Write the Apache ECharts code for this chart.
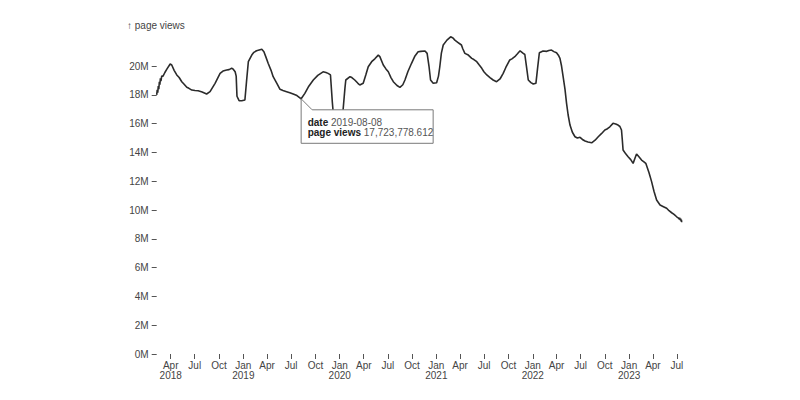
<!DOCTYPE html>
<html>
<head>
<meta charset="utf-8">
<script src="https://cdn.jsdelivr.net/npm/echarts@6/dist/echarts.min.js"></script>
<style>
  html, body { margin: 0; padding: 0; background: #fff; }
  #chart { width: 800px; height: 400px; }
</style>
</head>
<body>
<div id="chart"></div>
<script>
// ---- data (page views, millions) ----
const dates = [
  '2018-02-07','2018-02-09','2018-02-11','2018-02-13','2018-02-15','2018-02-17','2018-02-19','2018-02-21','2018-02-23','2018-02-26',
  '2018-03-03','2018-03-10','2018-03-18','2018-03-30','2018-04-05','2018-04-14','2018-04-24','2018-05-03','2018-05-13','2018-05-21',
  '2018-06-01','2018-06-09','2018-06-20','2018-07-02','2018-07-14','2018-07-29','2018-08-15','2018-08-28','2018-09-16','2018-10-05',
  '2018-10-16','2018-10-30','2018-11-08','2018-11-18','2018-11-23','2018-12-01','2018-12-05','2018-12-08','2018-12-16','2018-12-26',
  '2019-01-07','2019-01-13','2019-01-20','2019-02-02','2019-02-10','2019-02-20','2019-03-12','2019-03-20','2019-03-28','2019-04-05',
  '2019-04-16','2019-04-24','2019-05-08','2019-05-20','2019-05-31','2019-06-14','2019-06-26','2019-07-09','2019-07-23','2019-08-08',
  '2019-08-22','2019-09-06','2019-09-23','2019-10-10','2019-10-30','2019-11-10','2019-11-18','2019-11-27','2019-12-04','2019-12-10',
  '2019-12-25','2020-01-09','2020-01-14','2020-01-21','2020-01-24','2020-02-09','2020-02-16','2020-02-27','2020-03-10','2020-03-17',
  '2020-03-30','2020-04-09','2020-04-18','2020-05-01','2020-05-13','2020-05-26','2020-06-01','2020-06-14','2020-06-24','2020-07-03',
  '2020-07-13','2020-07-22','2020-08-05','2020-08-16','2020-08-27','2020-09-04','2020-09-15','2020-09-29','2020-10-12','2020-10-24',
  '2020-11-03','2020-11-19','2020-11-27','2020-12-04','2020-12-10','2020-12-20','2021-01-02','2021-01-09','2021-01-14','2021-01-20',
  '2021-01-27','2021-02-10','2021-02-24','2021-03-05','2021-03-12','2021-03-23','2021-04-06','2021-04-11','2021-04-19','2021-05-02',
  '2021-05-15','2021-05-23','2021-06-03','2021-06-11','2021-06-22','2021-06-30','2021-07-11','2021-07-23','2021-08-04','2021-08-17',
  '2021-08-30','2021-09-11','2021-09-21','2021-10-06','2021-10-14','2021-10-25','2021-11-04','2021-11-14','2021-11-26','2021-12-02',
  '2021-12-08','2021-12-15','2021-12-25','2022-01-03','2022-01-13','2022-01-19','2022-01-26','2022-02-09','2022-02-23','2022-03-03',
  '2022-03-13','2022-03-22','2022-04-01','2022-04-08','2022-04-14','2022-04-20','2022-04-26','2022-05-03','2022-05-09','2022-05-15',
  '2022-05-22','2022-05-31','2022-06-10','2022-06-19','2022-06-29','2022-07-08','2022-07-18','2022-07-29','2022-08-12','2022-08-25',
  '2022-09-06','2022-09-18','2022-10-01','2022-10-11','2022-10-20','2022-11-01','2022-11-11','2022-11-20','2022-11-27','2022-12-03',
  '2022-12-06','2022-12-09','2022-12-19','2022-12-28','2023-01-07','2023-01-16','2023-01-23','2023-01-29','2023-02-07','2023-02-17',
  '2023-02-26','2023-03-05','2023-03-17','2023-03-27','2023-04-05','2023-04-15','2023-04-28','2023-05-09','2023-05-23','2023-06-01',
  '2023-06-11','2023-06-20','2023-06-30','2023-07-06','2023-07-09','2023-07-11','2023-07-13','2023-07-15','2023-07-17','2023-07-18',
  '2023-07-19'
];
const pageViewsM = [
  18.00,18.35,18.15,18.60,18.40,18.90,18.70,19.15,18.95,19.30,
  19.30,19.55,19.80,20.14,20.07,19.70,19.38,19.20,18.91,18.75,
  18.52,18.45,18.33,18.30,18.28,18.20,18.06,18.22,18.80,19.49,
  19.65,19.72,19.75,19.84,19.80,19.60,19.30,17.90,17.60,17.59,
  17.64,18.90,20.30,20.76,20.95,21.06,21.16,20.99,20.60,20.19,
  19.70,19.26,18.80,18.38,18.30,18.22,18.15,18.06,17.95,17.723778612,
  18.10,18.60,19.03,19.35,19.60,19.55,19.49,19.38,17.50,16.20,
  15.50,15.60,17.00,18.50,19.03,19.26,19.20,19.03,18.80,18.68,
  18.80,19.40,19.95,20.30,20.50,20.76,20.65,20.07,19.80,19.60,
  19.20,18.91,18.65,18.52,18.70,19.03,19.60,20.19,20.70,20.99,
  21.02,21.04,20.88,20.00,19.03,18.80,18.84,19.30,19.95,20.90,
  21.46,21.80,22.03,21.95,21.80,21.65,21.46,21.20,20.88,20.76,
  20.53,20.45,20.30,20.10,19.84,19.60,19.38,19.20,19.03,18.91,
  19.10,19.49,19.90,20.42,20.50,20.65,20.85,21.06,20.88,20.80,
  20.00,19.03,18.85,18.75,18.80,19.80,20.92,21.04,21.02,21.08,
  21.11,21.00,20.92,20.75,20.53,20.00,19.26,18.40,17.41,16.60,
  15.90,15.40,15.09,15.00,15.05,14.90,14.79,14.72,14.67,14.85,
  15.09,15.30,15.56,15.65,15.78,16.02,15.98,15.90,15.80,15.56,
  14.90,14.17,13.90,13.70,13.50,13.24,13.60,13.89,13.70,13.47,
  13.35,13.24,12.60,11.97,11.30,10.69,10.35,10.25,10.12,9.95,
  9.81,9.70,9.53,9.45,9.38,9.46,9.30,9.40,9.22,9.32,
  9.15
];
const yTicksM = [0, 2, 4, 6, 8, 10, 12, 14, 16, 18, 20];
const xTickDates = [
  '2018-04-01','2018-07-01','2018-10-01','2019-01-01','2019-04-01','2019-07-01','2019-10-01',
  '2020-01-01','2020-04-01','2020-07-01','2020-10-01','2021-01-01','2021-04-01','2021-07-01','2021-10-01',
  '2022-01-01','2022-04-01','2022-07-01','2022-10-01','2023-01-01','2023-04-01','2023-07-01'
];
const xTickLabels = [
  'Apr\n2018','Jul','Oct','Jan\n2019','Apr','Jul','Oct',
  'Jan\n2020','Apr','Jul','Oct','Jan\n2021','Apr','Jul','Oct',
  'Jan\n2022','Apr','Jul','Oct','Jan\n2023','Apr','Jul'
];
const tipDate = '2019-08-08';
const yLabel = '↑ page views';

// ---- build ----
function parseDay(s) { const p = s.split('-').map(Number); return Date.UTC(p[0], p[1] - 1, p[2]); }
const seriesData = dates.map((d, i) => [parseDay(d), pageViewsM[i] * 1e6]);
const xTickValues = xTickDates.map(parseDay);
const labelByTime = {};
xTickValues.forEach((t, i) => { labelByTime[t] = xTickLabels[i]; });

const FONT = 'Liberation Sans, Arial, sans-serif';
const TXT = '#444';

const chart = echarts.init(document.getElementById('chart'), null, { renderer: 'svg' });
chart.setOption({
  animation: false,
  backgroundColor: '#fff',
  title: {
    text: yLabel, left: 122, top: 15,
    textStyle: { fontSize: 10, fontWeight: 'normal', color: TXT, fontFamily: FONT }
  },
  grid: { left: 156.7, right: 118.3, top: 36.8, bottom: 46, containLabel: false },
  xAxis: {
    type: 'value', min: 'dataMin', max: 'dataMax', scale: true,
    axisLine: { show: false },
    splitLine: { show: false },
    axisTick: { show: true, length: 5, lineStyle: { color: '#555', width: 1 }, customValues: xTickValues },
    axisLabel: {
      customValues: xTickValues, margin: 6, fontSize: 10, lineHeight: 10, color: TXT, fontFamily: FONT,
      formatter: (v) => labelByTime[v] || ''
    }
  },
  yAxis: {
    type: 'value', min: 0, max: 'dataMax',
    axisLine: { show: false },
    splitLine: { show: false },
    axisTick: { show: true, length: 5, lineStyle: { color: '#555', width: 1 }, customValues: yTicksM.map(v => v * 1e6) },
    axisLabel: {
      customValues: yTicksM.map(v => v * 1e6), margin: 8, fontSize: 10, color: TXT, fontFamily: FONT,
      formatter: (v) => Math.round(v / 1e6) + 'M'
    }
  },
  series: [{
    type: 'line', data: seriesData, showSymbol: false, symbol: 'none', smooth: false,
    lineStyle: { color: '#2b2b2b', width: 1.6 }
  }]
});

// tip anchored at the selected data point
const ti = dates.indexOf(tipDate);
const p = chart.convertToPixel({ seriesIndex: 0 }, seriesData[ti]);
const w = 132, h = 33.5, m = 11;
const valText = seriesData[ti][1].toLocaleString('en-US', { maximumFractionDigits: 3 });
chart.setOption({
  graphic: [
    {
      type: 'polygon', z: 100,
      shape: { points: [[p[0], p[1]], [p[0] + m, p[1] + m], [p[0] + w, p[1] + m], [p[0] + w, p[1] + m + h], [p[0], p[1] + m + h]] },
      style: { fill: '#fff', stroke: '#7a7a7a', lineWidth: 1 }
    },
    {
      type: 'text', z: 101, x: p[0] + 6.5, y: p[1] + m + 7.5,
      style: {
        text: '{b|date} ' + tipDate + '\n{b|page views} ' + valText,
        rich: { b: { fontWeight: 'bold', fontSize: 10, fontFamily: FONT, fill: '#222', lineHeight: 10 } },
        fontSize: 10, lineHeight: 10, fontFamily: FONT, fill: '#555', verticalAlign: 'top'
      }
    }
  ]
});
</script>
</body>
</html>
